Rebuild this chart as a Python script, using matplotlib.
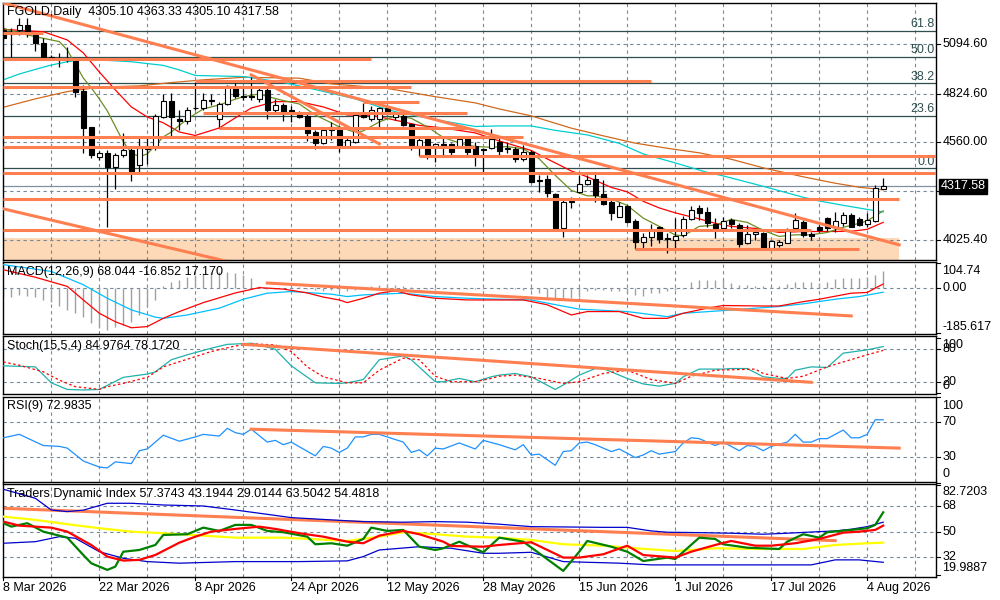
import matplotlib
matplotlib.use("Agg")
import matplotlib.pyplot as plt
from matplotlib.transforms import blended_transform_factory as blend

plt.rcParams['font.family'] = ['Liberation Sans', 'DejaVu Sans']
FS = 9

# ---- daily candles (bar index 0..110) ----
opens = [5173, 5156, 5173, 5200, 5145, 5102, 5025, 5014, 5014, 5009,
         4839, 4643, 4479, 4501, 4424, 4490, 4517, 4435, 4523, 4533,
         4697, 4785, 4686, 4676, 4747, 4747, 4790, 4686, 4768, 4861,
         4812, 4812, 4796, 4845, 4736, 4763, 4736, 4719, 4703, 4615,
         4555, 4626, 4637, 4533, 4561, 4708, 4686, 4686, 4747, 4697,
         4703, 4659, 4539, 4577, 4539, 4550, 4550, 4539, 4583, 4539,
         4517, 4528, 4561, 4523, 4523, 4468, 4506, 4353, 4359, 4277,
         4091, 4233, 4288, 4331, 4359, 4277, 4233, 4151, 4211, 4129,
         4014, 4042, 4096, 4031, 4025, 4053, 4140, 4200, 4178, 4113,
         4091, 4135, 4107, 4009, 4058, 4064, 3982, 3998, 4009, 4091,
         4124, 4058, 4096, 4146, 4096, 4118, 4162, 4140, 4113, 4129,
         4305.10]
highs = [5189, 5184, 5238, 5238, 5162, 5129, 5036, 5047, 5080, 5020,
         4872, 4643, 4512, 4517, 4501, 4610, 4539, 4583, 4583, 4714,
         4823, 4828, 4736, 4752, 4889, 4829, 4823, 4779, 4872, 4889,
         4867, 4916, 4861, 4856, 4796, 4774, 4758, 4730, 4719, 4626,
         4637, 4670, 4648, 4583, 4719, 4774, 4758, 4752, 4752, 4725,
         4719, 4665, 4583, 4583, 4555, 4588, 4555, 4583, 4588, 4561,
         4528, 4632, 4583, 4561, 4533, 4544, 4517, 4381, 4381, 4282,
         4249, 4260, 4381, 4381, 4397, 4353, 4244, 4233, 4217, 4140,
         4064, 4113, 4102, 4064, 4146, 4157, 4211, 4217, 4206, 4146,
         4151, 4146, 4118, 4107, 4080, 4069, 4025, 4025, 4091, 4173,
         4135, 4069, 4107, 4151, 4178, 4178, 4173, 4151, 4173, 4326,
         4363.33]
lows = [5113, 5025, 5145, 5134, 5058, 5025, 5014, 4971, 4998, 4807,
        4501, 4473, 4462, 4096, 4304, 4479, 4348, 4397, 4441, 4517,
        4692, 4588, 4626, 4659, 4736, 4736, 4763, 4637, 4763, 4801,
        4790, 4790, 4779, 4686, 4725, 4676, 4670, 4692, 4566, 4523,
        4550, 4572, 4506, 4528, 4555, 4692, 4676, 4643, 4708, 4681,
        4648, 4517, 4484, 4468, 4452, 4490, 4490, 4533, 4490, 4430,
        4391, 4523, 4479, 4501, 4452, 4457, 4337, 4288, 4260, 4085,
        4042, 4200, 4282, 4326, 4233, 4217, 4135, 4151, 4118, 3976,
        3976, 3993, 4009, 3954, 3982, 4042, 4135, 4135, 4096, 4036,
        4080, 4091, 3987, 4004, 4025, 3976, 3976, 3987, 4009, 4085,
        4042, 4025, 4069, 4075, 4069, 4102, 4096, 4102, 4096, 4124,
        4305.10]
closes = [5129, 5151, 5200, 5162, 5102, 5025, 5020, 5009, 5009, 4834,
          4637, 4490, 4501, 4424, 4490, 4517, 4391, 4528, 4539, 4703,
          4785, 4697, 4676, 4736, 4744, 4790, 4785, 4768, 4867, 4812,
          4807, 4807, 4845, 4736, 4763, 4719, 4725, 4697, 4610, 4555,
          4626, 4643, 4533, 4572, 4708, 4697, 4736, 4747, 4719, 4714,
          4654, 4544, 4572, 4490, 4550, 4533, 4506, 4577, 4506, 4490,
          4523, 4577, 4512, 4528, 4468, 4506, 4342, 4348, 4282, 4091,
          4233, 4238, 4331, 4353, 4271, 4222, 4173, 4211, 4124, 4014,
          4042, 4080, 4031, 4036, 4047, 4140, 4189, 4173, 4118, 4091,
          4129, 4113, 4004, 4058, 4069, 3982, 4020, 4014, 4080, 4135,
          4053, 4044, 4077, 4091, 4129, 4162, 4096, 4107, 4135, 4309,
          4317.58]

# ---- moving averages on the price chart (bar, value) ----
ma_red_bars = [0, 5, 8, 10, 12, 14, 16, 18, 20, 22, 24, 27, 29, 31, 34, 37, 40, 43, 46, 48,
               50, 52, 55, 59, 62, 66, 68, 71, 73, 76, 78, 80, 82, 84, 87, 89, 91, 94, 97,
               100, 103, 106, 108, 109, 110]
ma_red = [5176, 5163, 5118, 5047, 4943, 4845, 4752, 4697, 4665, 4615, 4596, 4637, 4692, 4746,
          4781, 4781, 4752, 4708, 4706, 4689, 4670, 4651, 4637, 4610, 4566, 4514, 4468, 4402,
          4370, 4312, 4288, 4236, 4200, 4173, 4140, 4116, 4099, 4088, 4066, 4071, 4071, 4072,
          4083, 4102, 4121]
ma_olive_bars = [0, 2, 5, 7, 8, 10, 11, 12, 13, 15, 16, 17, 18, 20, 21, 23, 25, 27, 29, 30,
                 32, 33, 35, 37, 39, 41, 42, 44, 45, 47, 49, 51, 53, 55, 57, 59, 61, 63, 65,
                 67, 69, 71, 73, 74, 76, 78, 80, 82, 84, 85, 87, 89, 91, 93, 95, 97, 99, 101,
                 103, 105, 107, 108, 110]
ma_olive = [5182, 5155, 5127, 5109, 5063, 4910, 4856, 4796, 4730, 4561, 4501, 4480, 4495, 4588,
            4615, 4686, 4741, 4763, 4794, 4808, 4823, 4809, 4787, 4768, 4708, 4665, 4643, 4613,
            4621, 4670, 4703, 4690, 4643, 4585, 4555, 4535, 4532, 4535, 4523, 4468, 4378, 4296,
            4266, 4266, 4249, 4214, 4144, 4099, 4052, 4047, 4099, 4106, 4137, 4121, 4077, 4044,
            4053, 4053, 4066, 4094, 4116, 4129, 4184]
ma_cyan_bars = [0, 2, 4, 6, 8, 10, 12, 16, 20, 22, 24, 27, 30, 35, 40, 44, 47, 49, 52, 55, 59,
                62, 66, 69, 73, 77, 80, 84, 88, 90, 95, 100, 102, 105, 108, 110]
ma_cyan = [4900, 4932, 4957, 4981, 4999, 5009, 5009, 4999, 4979, 4954, 4924, 4921, 4918, 4886,
           4837, 4796, 4752, 4726, 4700, 4675, 4645, 4648, 4648, 4624, 4599, 4553, 4495, 4446,
           4394, 4375, 4318, 4258, 4238, 4214, 4192, 4178]
ma_brown_bars = [0, 4, 8, 12, 17, 21, 25, 30, 37, 41, 48, 54, 59, 62, 66, 71, 75, 79, 83, 87,
                 91, 95, 100, 104, 107, 110]
ma_brown = [4750, 4796, 4836, 4860, 4867, 4885, 4900, 4914, 4909, 4878, 4853, 4808, 4774, 4741,
            4703, 4636, 4594, 4554, 4526, 4501, 4466, 4419, 4370, 4335, 4313, 4299]

# ---- drawn objects on the price chart ----
fib_levels = [5168.0, 5024.6, 4881.2, 4703.8, 4417.0]
fib_names = ['61.8', '50.0', '38.2', '23.6', '0.0']
hlines_price = [5156, 5014, 4894, 4859, 4781, 4721, 4636, 4590, 4535, 4486, 4390, 4249, 4080, 3975]
hlines_from = [0, 0, 24, 0, 45, 25, 27, 0, 0, 52, 0, 0, 0, 79]
hlines_to = [5, 46, 81, 51, 52, 58, 58, 65, 59, 117, 117, 112, 101, 107]
trend_bars = [(0, 112), (31, 47), (0, 30)]
trend_price = [(5320, 3998), (4927, 4550), (4195, 3887)]
zone_bars = (0, 112)
zone_price = (3900, 4034)
price_ticks = [5094.60, 4824.60, 4560.00, 4290.00, 4025.40]
price_labels = ['5094.60', '4824.60', '4560.00', '4290.00', '4025.40']
last_price = 4317.58

# ---- MACD ----
macd_hist = [-35, -35, -28, -32, -35, -49, -56, -76, -90, -104, -118, -145, -166, -173, -159,
             -152, -139, -111, -76, -49, 10, 27, 34, 46, 55, 62, 65, 68, 68, 62, 55, 41, 7, -3,
             -5, 2, 4, 3, -4, -8, -10, -8, -12, -14, -6, 3, 8, 12, 15, 12, 10, 3, -2, -5, -6,
             -4, -3, -2, -4, -3, -2, -1, -2, -4, -5, -6, -8, -21, -42, -42, -46, -42, -35, -10,
             -7, -7, -10, -14, -20, -28, -32, -21, -21, -14, -6, -2, 27, 32, 34, 34, 34, 21,
             14, 14, 10, 7, 7, 10, 18, 27, 27, 27, 23, 27, 37, 41, 41, 41, 48, 55, 69]
macd_red_bars = [0, 4, 8, 10, 12, 14, 16, 18, 20, 22, 25, 29, 32, 35, 38, 40, 42, 43, 45, 47,
                 49, 51, 54, 58, 62, 65, 68, 71, 73, 77, 80, 83, 85, 88, 90, 95, 97, 100, 102,
                 106, 108, 109, 110]
macd_red = [76, 45, 7, -49, -104, -139, -164, -159, -125, -97, -60, -20, 2, -4, -20, -37, -49,
            -60, -42, -21, -11, -28, -42, -49, -49, -49, -69, -111, -97, -97, -125, -125, -104,
            -83, -72, -74, -74, -56, -46, -21, -18, 0, 17]
macd_blue_bars = [0, 6, 10, 13, 16, 19, 20, 23, 27, 30, 33, 36, 41, 43, 45, 50, 54, 58, 62, 66,
                  68, 72, 78, 83, 85, 90, 94, 97, 100, 104, 107, 110]
macd_blue = [97, 69, 14, -42, -90, -120, -125, -111, -83, -46, -21, -14, -25, -35, -28, -21,
             -35, -42, -46, -49, -62, -87, -97, -118, -104, -93, -83, -76, -65, -46, -35, -17]
macd_trend = ((33, 106), (21, -115))

# ---- Stochastic ----
stoch_main_bars = [0, 4, 6, 8, 10, 12, 15, 18, 19, 21, 23, 26, 28, 31, 32, 34, 36, 39, 42, 43,
                   45, 47, 50, 51, 54, 55, 57, 59, 61, 62, 64, 66, 69, 70, 72, 74, 75, 78, 80,
                   82, 84, 85, 87, 90, 91, 93, 95, 97, 98, 99, 101, 103, 105, 108, 110]
stoch_main = [50, 48, 19, 7, 6, 7, 29, 35, 39, 61, 70, 82, 89, 91, 88, 80, 50, 19, 18, 19, 25,
              61, 68, 61, 21, 21, 27, 21, 30, 33, 36, 30, 7, 15, 33, 45, 45, 27, 17, 13, 18, 30,
              44, 44, 45, 45, 30, 27, 27, 42, 48, 47, 73, 79, 85]
stoch_sig_bars = [0, 2, 5, 7, 9, 12, 13, 15, 18, 20, 23, 26, 29, 31, 34, 36, 38, 40, 43, 45, 47,
                  50, 52, 54, 56, 59, 61, 62, 64, 67, 70, 72, 75, 78, 81, 84, 86, 89, 94, 95, 98,
                  100, 103, 105, 108, 110]
stoch_sig = [57, 51, 39, 24, 12, 7, 12, 18, 29, 48, 62, 76, 86, 90, 88, 76, 48, 30, 19, 19, 42,
             64, 61, 31, 21, 21, 27, 31, 33, 27, 18, 21, 36, 42, 25, 18, 31, 42, 44, 36, 27, 31,
             48, 57, 70, 78]
stoch_trend = ((30, 101), (89, 20))

# ---- RSI ----
rsi_bars = [0, 2, 5, 7, 8, 10, 12, 13, 14, 16, 17, 18, 20, 22, 24, 25, 27, 28, 29, 30, 31, 33,
            34, 35, 36, 39, 40, 41, 42, 43, 44, 45, 46, 47, 48, 50, 51, 52, 53, 54, 55, 57, 59,
            60, 62, 64, 65, 66, 67, 69, 70, 71, 72, 73, 74, 76, 77, 79, 80, 81, 82, 84, 85, 86,
            87, 89, 90, 92, 93, 94, 95, 96, 98, 99, 100, 101, 102, 103, 105, 106, 107, 108, 109,
            110]
rsi = [52, 56, 43, 42, 40, 25, 18, 17, 24, 22, 37, 39, 55, 48, 53, 56, 54, 63, 58, 56, 62, 47,
       49, 44, 47, 31, 42, 40, 35, 40, 53, 53, 56, 56, 53, 47, 35, 38, 31, 40, 39, 46, 39, 49, 44,
       38, 44, 32, 33, 20, 36, 37, 46, 47, 44, 36, 39, 29, 32, 37, 33, 36, 46, 52, 51, 43, 47,
       37, 43, 42, 37, 42, 47, 56, 47, 47, 51, 51, 61, 52, 52, 56, 73, 73]
rsi_trend = ((31, 112), (62, 40))

# ---- Traders Dynamic Index ----
tdi_up_bars = [0, 4, 6, 8, 10, 13, 16, 20, 25, 29, 33, 36, 41, 45, 50, 54, 58, 62, 66, 75, 78,
               81, 83, 87, 91, 95, 98, 102, 104, 106, 108, 110]
tdi_up = [79.6, 73.3, 65.1, 64.0, 65.0, 69.8, 69.8, 68.6, 67.9, 65.1, 62.1, 59.8, 58.2, 57.0,
          56.6, 57.0, 56.6, 55.2, 53.5, 53.0, 53.0, 50.5, 49.6, 49.3, 48.9, 48.2, 48.9, 50.0,
          50.5, 51.7, 53.5, 56.6]
tdi_lo_bars = [0, 4, 7, 9, 12, 15, 18, 22, 29, 37, 43, 45, 47, 52, 56, 60, 62, 66, 70, 77, 81,
               91, 101, 104, 107, 110]
tdi_lo = [41.9, 43.0, 46.5, 45.4, 36.0, 31.4, 29.1, 28.0, 29.1, 29.1, 29.6, 32.6, 37.2, 39.5,
          38.4, 34.9, 34.9, 35.6, 29.1, 28.0, 26.8, 26.8, 26.8, 30.3, 30.3, 28.6]
tdi_mid_bars = [0, 4, 8, 12, 16, 20, 25, 29, 35, 39, 43, 47, 50, 54, 58, 62, 66, 70, 75, 79, 84,
                89, 95, 100, 104, 108, 110]
tdi_mid = [60.5, 58.2, 55.2, 52.4, 50.0, 48.9, 47.2, 45.8, 45.8, 44.7, 43.5, 46.5, 49.6, 48.2,
           46.5, 45.8, 44.2, 41.2, 40.2, 38.4, 36.5, 38.4, 37.9, 37.9, 40.7, 41.9, 42.3]
tdi_green_bars = [0, 1, 3, 5, 8, 10, 11, 13, 14, 15, 17, 19, 20, 23, 25, 27, 29, 31, 33, 35, 38,
                  39, 41, 43, 45, 46, 48, 50, 52, 54, 55, 57, 60, 62, 65, 67, 70, 72, 73, 76,
                  78, 80, 83, 84, 87, 89, 90, 93, 97, 98, 100, 102, 103, 106, 108, 109, 110]
tdi_green = [55.9, 53.5, 55.9, 50.0, 45.8, 33.7, 27.9, 23.3, 25.6, 36.0, 37.2, 40.7, 47.7, 48.2,
             52.8, 50.5, 54.7, 54.7, 50.5, 49.6, 46.5, 41.2, 41.9, 40.2, 44.9, 52.8, 50.5, 51.2,
             39.5, 37.2, 38.4, 43.0, 35.6, 45.8, 43.0, 34.9, 22.6, 36.0, 43.5, 39.5, 36.0, 29.5,
             31.9, 30.9, 45.8, 44.9, 41.2, 38.8, 37.9, 43.0, 48.2, 45.8, 49.6, 51.2, 52.4, 54.7,
             63.5]
tdi_red_bars = [0, 2, 6, 8, 11, 13, 15, 17, 19, 22, 24, 26, 29, 32, 34, 37, 40, 43, 45, 47, 50,
                52, 55, 56, 60, 62, 66, 70, 72, 75, 78, 80, 84, 86, 89, 91, 94, 96, 99, 102,
                105, 107, 109, 110]
tdi_red = [57.0, 54.2, 52.8, 50.0, 40.7, 32.6, 29.8, 30.3, 33.7, 42.3, 46.5, 50.0, 51.9, 53.5,
           51.9, 48.9, 46.5, 43.0, 41.9, 47.2, 50.5, 48.2, 43.0, 40.0, 39.5, 40.7, 42.6, 31.9,
           31.9, 34.2, 40.2, 33.7, 31.9, 36.0, 40.7, 43.5, 40.2, 40.2, 41.9, 44.9, 49.3, 50.0,
           51.2, 54.2]
tdi_trend = ((0, 104), (66.3, 43.7))

date_bars = [0, 12, 24, 36, 48, 60, 72, 84, 96, 108]
date_labels = ['8 Mar 2026', '22 Mar 2026', '8 Apr 2026', '24 Apr 2026', '12 May 2026',
               '28 May 2026', '15 Jun 2026', '1 Jul 2026', '17 Jul 2026', '4 Aug 2026']

ORANGE = '#FF7F50'
GRID = '#778899'
DASH = (0, (3, 3))
W, H = 1000, 600

fig = plt.figure(figsize=(10, 6), dpi=100)
fig.patch.set_facecolor('white')


def make_panel(top, bottom, ylim):
    ax = fig.add_axes([3 / W, 1 - bottom / H, 933 / W, (bottom - top) / H])
    ax.set_xlim(-0.04, 116.6)
    ax.set_ylim(*ylim)
    ax.set_xticks([])
    ax.set_yticks([])
    for s in ax.spines.values():
        s.set_color('black')
        s.set_linewidth(1.0)
    for b in range(6, 117, 6):
        ax.axvline(b, color=GRID, lw=0.8, ls=DASH, zorder=1)
    return ax


def right_labels(ax, values, texts, shifts=None):
    tr = blend(ax.transAxes, ax.transData)
    for i, (v, t) in enumerate(zip(values, texts)):
        dy = shifts[i] if shifts else 0
        ax.annotate(t, xy=(1, v), xycoords=tr, xytext=(4.5, dy), textcoords='offset points',
                    ha='left', va='center', fontsize=FS, annotation_clip=False)
        ax.plot([1, 1.0045], [v, v], transform=tr, color='black', lw=0.8, clip_on=False)


def hgrid(ax, values):
    for v in values:
        ax.axhline(v, color=GRID, lw=0.8, ls=DASH, zorder=1)


def title(ax, text):
    ax.text(4 / 933, 1 - 10 / (ax.bbox.height), text, transform=ax.transAxes,
            ha='left', va='center', fontsize=FS, zorder=10)


# ---- price panel ----
ax = make_panel(3, 259.5, (3918, 5320))
hgrid(ax, price_ticks)
ax.fill_between(zone_bars, zone_price[0], zone_price[1], color='#FDD9B8', lw=0, zorder=0.5)
for lv, nm in zip(fib_levels, fib_names):
    ax.axhline(lv, color='#2F4F4F', lw=0.9, zorder=1.5)
    ax.annotate(nm, xy=(1, lv), xycoords=blend(ax.transAxes, ax.transData), xytext=(-1, 0.5),
                textcoords='offset points', ha='right', va='bottom', fontsize=FS,
                color='#2F4F4F')
ax.axhline(last_price, color='#8090A0', lw=0.9, zorder=1.5)

ax.plot(ma_brown_bars, ma_brown, color='#D2691E', lw=0.9, zorder=2)
ax.plot(ma_cyan_bars, ma_cyan, color='#00CED1', lw=0.9, zorder=2)
ax.plot(ma_red_bars, ma_red, color='red', lw=0.9, zorder=2)
ax.plot(ma_olive_bars, ma_olive, color='#6B8E23', lw=0.9, zorder=2)

bars = list(range(len(opens)))
ax.vlines(bars, lows, highs, color='black', lw=0.9, zorder=3)
bottoms = [min(o, c) for o, c in zip(opens, closes)]
heights = [abs(c - o) for o, c in zip(opens, closes)]
faces = ['white' if c >= o else 'black' for o, c in zip(opens, closes)]
ax.bar(bars, heights, bottom=bottoms, width=0.62, color=faces, edgecolor='black',
       lw=0.8, zorder=3.5)

for p, a, b in zip(hlines_price, hlines_from, hlines_to):
    ax.plot([a, b], [p, p], color=ORANGE, lw=2.2, solid_capstyle='butt', zorder=4)
for (a, b), (p0, p1) in zip(trend_bars, trend_price):
    ax.plot([a, b], [p0, p1], color=ORANGE, lw=2.2, zorder=4)

right_labels(ax, price_ticks, price_labels)
ax.annotate(f'{last_price:.2f}', xy=(1, last_price), xycoords=blend(ax.transAxes, ax.transData),
            xytext=(3.2, 0), textcoords='offset points', ha='left', va='center',
            fontsize=FS, color='white', annotation_clip=False, zorder=20,
            bbox=dict(boxstyle='square,pad=0.15', fc='black', ec='black'))
fig.text(7 / W, 1 - 12 / H, 'FGOLD,Daily  4305.10 4363.33 4305.10 4317.58',
         ha='left', va='center', fontsize=FS)

# ---- MACD ----
ax = make_panel(261.7, 333.5, (-187.7, 109.2))
hgrid(ax, [0])
ax.vlines(bars, 0, macd_hist, color='#A0A0A0', lw=1.0, zorder=2)
ax.plot(macd_blue_bars, macd_blue, color='#00BFFF', lw=0.9, zorder=3)
ax.plot(macd_red_bars, macd_red, color='red', lw=0.9, zorder=3)
ax.plot(*macd_trend, color=ORANGE, lw=2.2, zorder=4)
title(ax, 'MACD(12,26,9) 68.044 -16.852 17.170')
right_labels(ax, [104.74, 0.0, -185.617], ['104.74', '0.00', '-185.617'], [-6, 0, 4.5])

# ---- Stochastic ----
ax = make_panel(336, 393.5, (-0.4, 104.2))
hgrid(ax, [80, 20])
ax.plot(stoch_main_bars, stoch_main, color='#20B2AA', lw=0.9, zorder=3)
ax.plot(stoch_sig_bars, stoch_sig, color='red', lw=0.9, ls=(0, (2, 2)), zorder=3)
ax.plot(*stoch_trend, color=ORANGE, lw=2.2, zorder=4)
title(ax, 'Stoch(15,5,4) 84.9764 78.1720')
right_labels(ax, [100, 80, 20, 0], ['100', '80', '20', '0'], [-5, 0, 0, 5])

# ---- RSI ----
ax = make_panel(396.5, 481.5, (1.2, 100))
hgrid(ax, [70, 30])
ax.plot(rsi_bars, rsi, color='#1E90FF', lw=0.9, zorder=3)
ax.plot(*rsi_trend, color=ORANGE, lw=2.2, zorder=4)
title(ax, 'RSI(9) 72.9835')
right_labels(ax, [100, 70, 30, 0], ['100', '70', '30', '0'], [-6.5, 0, 0, 6.5])

# ---- Traders Dynamic Index ----
ax = make_panel(483.5, 576.5, (18.7, 83.6))
hgrid(ax, [68, 50, 32])
ax.plot(*tdi_trend, color=ORANGE, lw=2.2, zorder=2)
ax.plot(tdi_up_bars, tdi_up, color='#0000CD', lw=0.9, zorder=3)
ax.plot(tdi_lo_bars, tdi_lo, color='#0000CD', lw=0.9, zorder=3)
ax.plot(tdi_mid_bars, tdi_mid, color='yellow', lw=1.6, zorder=3)
ax.plot(tdi_green_bars, tdi_green, color='green', lw=1.6, zorder=4)
ax.plot(tdi_red_bars, tdi_red, color='red', lw=1.6, zorder=4)
title(ax, 'Traders Dynamic Index 57.3743 43.1944 29.0144 63.5042 54.4818')
right_labels(ax, [82.7203, 68, 50, 32, 19.9887], ['82.7203', '68', '50', '32', '19.9887'],
             [-5.5, 0, 0, 0, 5])
tr = blend(ax.transData, ax.transAxes)
for b, lab in zip(date_bars, date_labels):
    ax.plot([b, b], [0, -0.035], transform=tr, color='black', lw=0.8, clip_on=False)
    ax.annotate(lab, xy=(b, 0), xycoords=tr, xytext=(-0.5, -8.5), textcoords='offset points',
                ha='left', va='center', fontsize=FS, annotation_clip=False)

fig.savefig('out.png', dpi=100, facecolor='white')
